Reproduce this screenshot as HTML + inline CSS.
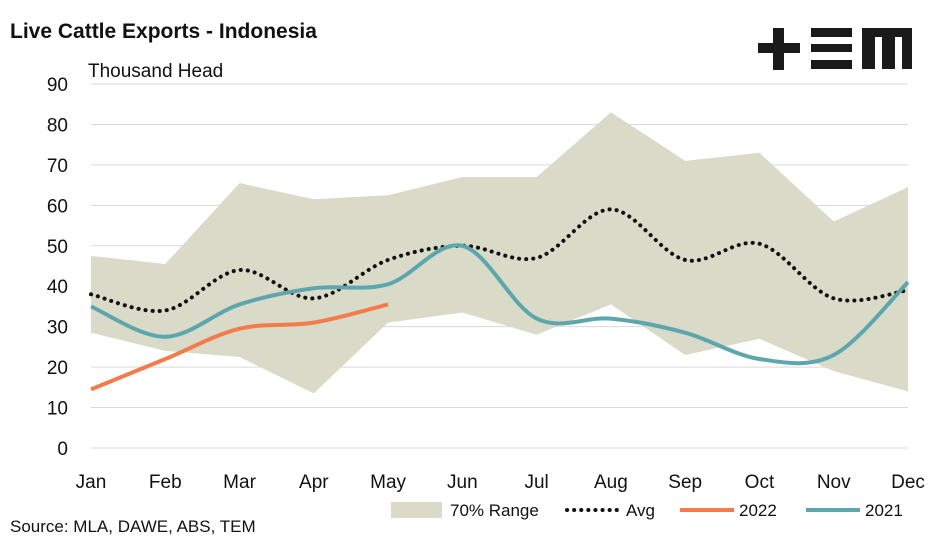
<!DOCTYPE html>
<html><head><meta charset="utf-8"><style>
body{margin:0;background:#fff;}
svg{display:block;font-family:"Liberation Sans",sans-serif;}
</style></head><body>
<svg width="947" height="543" viewBox="0 0 947 543">
<text x="10" y="38" font-size="21" font-weight="bold" fill="#111">Live Cattle Exports - Indonesia</text>
<text x="88" y="77" font-size="19" fill="#111">Thousand Head</text>
<g fill="#1a1a1a">
<rect x="758" y="43" width="42" height="10"/><rect x="773" y="28" width="11" height="42"/>
<rect x="811" y="28" width="41" height="9"/><rect x="811" y="44" width="41" height="8"/><rect x="811" y="60" width="41" height="9"/>
<rect x="862" y="28" width="50" height="9"/><rect x="862" y="28" width="13" height="41"/><rect x="882" y="28" width="13" height="41"/><rect x="902" y="28" width="10" height="41"/>
</g>
<g id="grid"></g><g id="marks"></g><g id="axes"></g>
<g font-size="17" fill="#111">
<rect x="391" y="502" width="51" height="16" fill="#d9dbc8"/>
<text x="450" y="516">70% Range</text>
<line x1="567" y1="510" x2="620" y2="510" stroke="#111" stroke-width="4" stroke-dasharray="0.1 7" stroke-linecap="round"/>
<text x="626" y="516">Avg</text>
<line x1="680" y1="510" x2="734" y2="510" stroke="#f47c4c" stroke-width="4"/>
<text x="739" y="516">2022</text>
<line x1="806" y1="510" x2="860" y2="510" stroke="#5ea6ad" stroke-width="4"/>
<text x="865" y="516">2021</text>
</g>
<text x="10" y="532" font-size="17" fill="#111">Source: MLA, DAWE, ABS, TEM</text>
</svg>
<script>
const months=["Jan","Feb","Mar","Apr","May","Jun","Jul","Aug","Sep","Oct","Nov","Dec"];
const yTicks=[0,10,20,30,40,50,60,70,80,90];
const rangeHigh=[47.5,45.5,65.5,61.5,62.5,67,67,83,71,73,56,64.5];
const rangeLow=[28.5,24,22.5,13.5,31,33.5,28,35.5,23,27,19,14];
const avg=[38,34,44,37,46.5,50,47,59,46.5,50.5,37,39];
const s2022=[14.5,22,29.5,31,35.5];
const s2021=[35,27.5,35.5,39.5,40.5,50,32,32,28.5,22,23,41];
const NS="http://www.w3.org/2000/svg";
const x=i=>91+i*(908-91)/11;
const y=v=>448-v*(448-84)/90;
function mk(tag,attrs,parent){const e=document.createElementNS(NS,tag);for(const k in attrs)e.setAttribute(k,attrs[k]);document.getElementById(parent).appendChild(e);return e;}
function smooth(vals){const p=vals.map((v,i)=>[x(i),y(v)]);let d="M"+p[0][0]+","+p[0][1];
for(let i=0;i<p.length-1;i++){const p0=p[i-1]||p[i],p1=p[i],p2=p[i+1],p3=p[i+2]||p2;
const c1=[p1[0]+(p2[0]-p0[0])/6,p1[1]+(p2[1]-p0[1])/6],c2=[p2[0]-(p3[0]-p1[0])/6,p2[1]-(p3[1]-p1[1])/6];
d+=" C"+c1+" "+c2+" "+p2;}return d;}
yTicks.forEach(t=>{const l=mk("line",{x1:91,x2:908,y1:y(t),y2:y(t),stroke:"#d9d9d9","stroke-width":1},"grid");


const tx=mk("text",{x:68,y:y(t)+7,"font-size":19,"text-anchor":"end",fill:"#111"},"axes");tx.textContent=t;

});
months.forEach((m,i)=>{const tx=mk("text",{x:x(i),y:488,"font-size":19,"text-anchor":"middle",fill:"#111"},"axes");tx.textContent=m;

});
let d=rangeHigh.map((v,i)=>(i?"L":"M")+x(i)+","+y(v)).join(" ");
for(let i=rangeLow.length-1;i>=0;i--)d+=" L"+x(i)+","+y(rangeLow[i]);
const area=mk("path",{d:d+"Z",fill:"#d9dbc8"},"marks");


const a=mk("path",{d:smooth(avg),fill:"none",stroke:"#111","stroke-width":4,"stroke-dasharray":"0.1 7","stroke-linecap":"round"},"marks");


const l21=mk("path",{d:smooth(s2021),fill:"none",stroke:"#5ea6ad","stroke-width":4},"marks");


const l22=mk("path",{d:smooth(s2022),fill:"none",stroke:"#f47c4c","stroke-width":4},"marks");


</script>
</body></html>
